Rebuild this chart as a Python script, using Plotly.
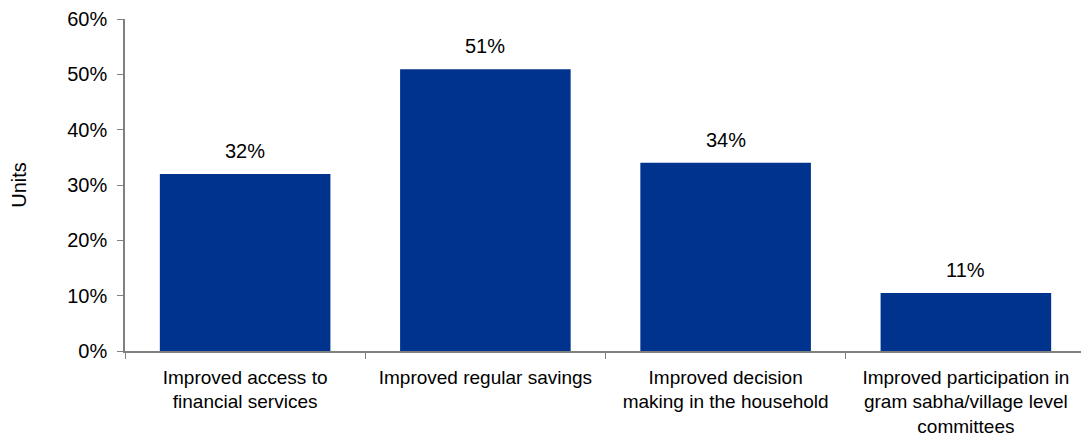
import plotly.graph_objects as go

categories = [
    "Improved access to<br>financial services",
    "Improved regular savings",
    "Improved decision<br>making in the household",
    "Improved participation in<br>gram sabha/village level<br>committees",
]
values = [0.32, 0.509, 0.34, 0.105]
labels = ["32%", "51%", "34%", "11%"]
y_ticks = [0, 0.1, 0.2, 0.3, 0.4, 0.5, 0.6]
y_tick_text = ["0%", "10%", "20%", "30%", "40%", "50%", "60%"]

FONT = "Liberation Sans, Arial, sans-serif"
FS = 20
XFS = 19

# the page body has an 8px default margin, so the figure is sized to fit inside the window
fig = go.Figure(
    go.Bar(
        x=categories,
        y=values,
        marker=dict(color="#00338D", line=dict(width=0)),
        hoverinfo="x+y",
    )
)

for c, v, t in zip(categories, values, labels):
    fig.add_annotation(
        x=c, y=v, text=t, showarrow=False,
        xref="x", yref="y", yanchor="bottom", yshift=10,
        font=dict(family=FONT, size=FS, color="#000000"),
    )

fig.update_layout(
    width=1081,
    height=428,
    margin=dict(l=117, r=3, t=11, b=85),
    paper_bgcolor="white",
    plot_bgcolor="white",
    bargap=0.29,
    showlegend=False,
    font=dict(family=FONT, size=FS, color="#000000"),
)

fig.update_yaxes(
    range=[0, 0.6],
    tickvals=y_ticks,
    ticktext=y_tick_text,
    showgrid=False,
    zeroline=False,
    showline=True,
    linecolor="#808080",
    linewidth=1.5,
    ticks="outside",
    ticklen=6,
    tickcolor="#808080",
    ticklabelstandoff=6,
    automargin=False,
    tickfont=dict(family=FONT, size=FS, color="#000000"),
    title=dict(text="Units", font=dict(family=FONT, size=FS, color="#000000"), standoff=38),
)

fig.update_xaxes(
    showgrid=False,
    showline=True,
    linecolor="#808080",
    linewidth=1.5,
    ticks="outside",
    tickson="boundaries",
    ticklen=6,
    tickcolor="#808080",
    ticklabelstandoff=8,
    automargin=False,
    tickfont=dict(family=FONT, size=XFS, color="#000000"),
    tickangle=0,
)

fig.write_html("out.html")
